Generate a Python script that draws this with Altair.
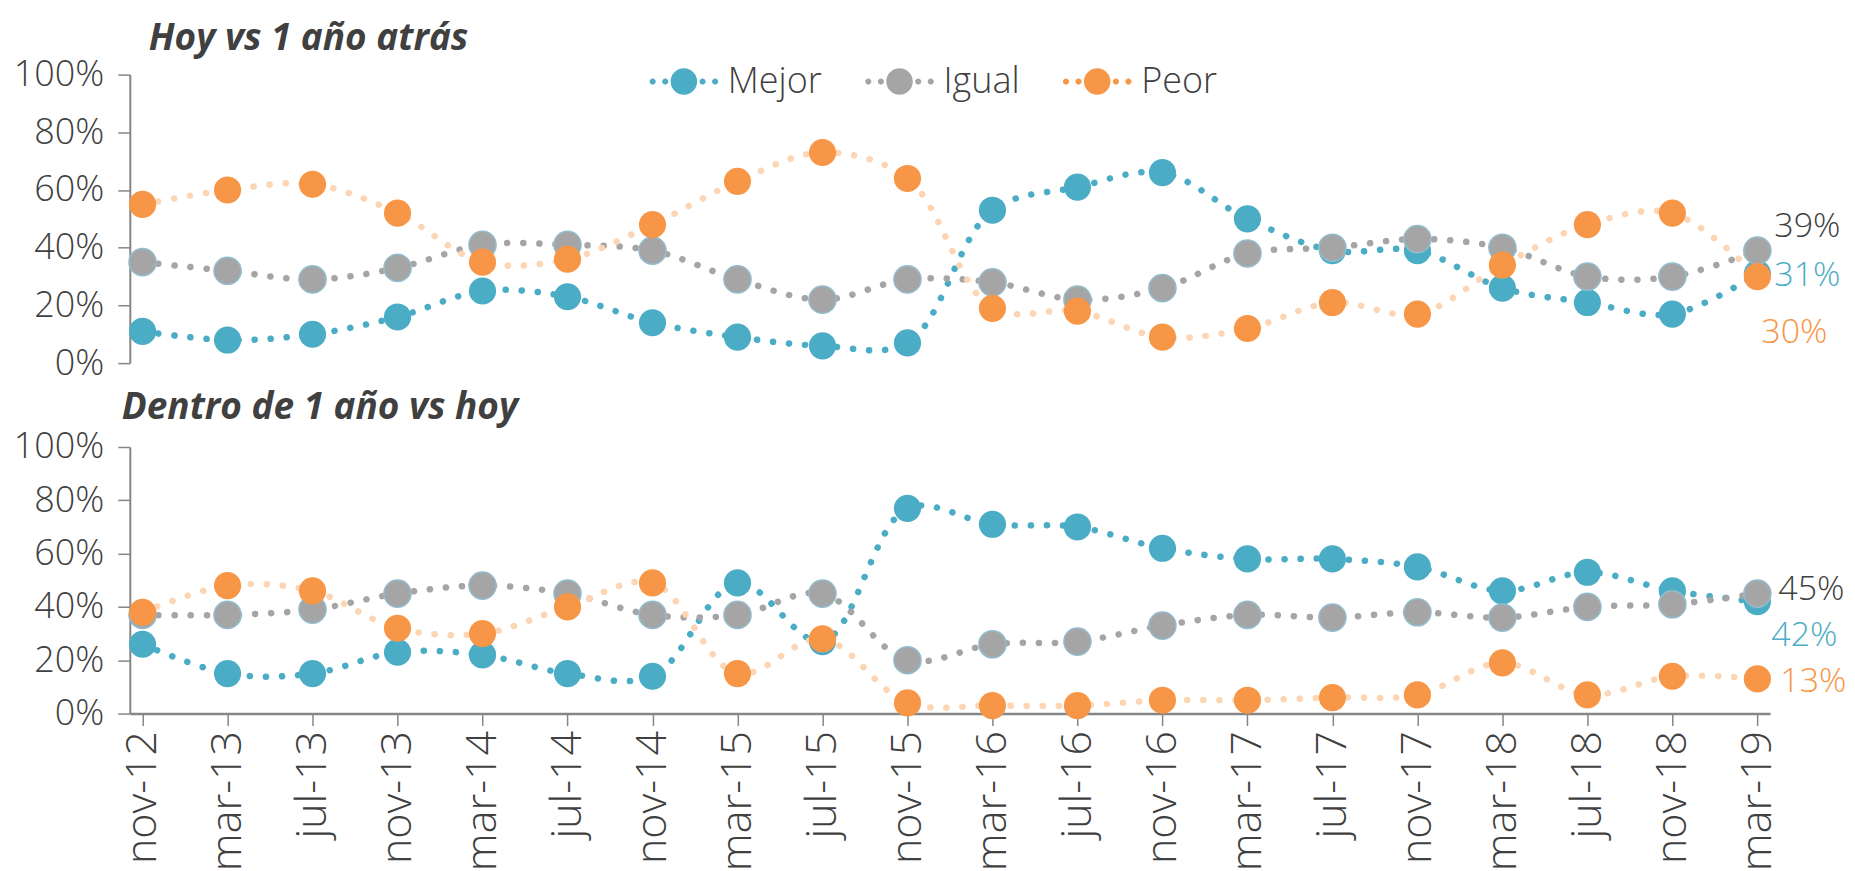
import altair as alt
import pandas as pd

fechas = ["nov-12", "mar-13", "jul-13", "nov-13", "mar-14", "jul-14", "nov-14",
          "mar-15", "jul-15", "nov-15", "mar-16", "jul-16", "nov-16", "mar-17",
          "jul-17", "nov-17", "mar-18", "jul-18", "nov-18", "mar-19"]
series = ["Mejor", "Igual", "Peor"]

# Hoy vs 1 año atrás (%)
hoy_mejor = [11, 8, 10, 16, 25, 23, 14, 9, 6, 7, 53, 61, 66, 50, 39, 39, 26, 21, 17, 31]
hoy_igual = [35, 32, 29, 33, 41, 41, 39, 29, 22, 29, 28, 22, 26, 38, 40, 43, 40, 30, 30, 39]
hoy_peor = [55, 60, 62, 52, 35, 36, 48, 63, 73, 64, 19, 18, 9, 12, 21, 17, 34, 48, 52, 30]

# Dentro de 1 año vs hoy (%)
fut_mejor = [26, 15, 15, 23, 22, 15, 14, 49, 27, 77, 71, 70, 62, 58, 58, 55, 46, 53, 46, 42]
fut_igual = [37, 37, 39, 45, 48, 45, 37, 37, 45, 20, 26, 27, 33, 37, 36, 38, 36, 40, 41, 45]
fut_peor = [38, 48, 46, 32, 30, 40, 49, 15, 28, 4, 3, 3, 5, 5, 6, 7, 19, 7, 14, 13]

line_colors = ["#4BACC6", "#A5A5A5", "#FCD5B5"]
marker_colors = ["#4BACC6", "#A5A5A5", "#F79646"]
label_colors = {"Mejor": "#4BACC6", "Igual": "#404040", "Peor": "#F79646"}

FONT = "Open Sans"
TXT = "#404040"
AXC = "#868686"
W = 1643


def long_df(m, i, p):
    rows = []
    for s, vals in zip(series, [m, i, p]):
        for f, v in zip(fechas, vals):
            rows.append({"Serie": s, "Fecha": f, "Valor": v})
    return pd.DataFrame(rows)


def dots(cx, r):
    return (f"M{cx - r:.3f},0A{r},{r},0,1,0,{cx + r:.3f},0"
            f"A{r},{r},0,1,0,{cx - r:.3f},0Z")


legend_symbol = (dots(0, 0.39) + dots(-0.92, 0.09) + dots(-0.55, 0.09)
                 + dots(0.55, 0.09) + dots(0.92, 0.09))


def panel(df, title, title_dx, title_offset, height, bottom_axis, legend,
          label_offsets):
    if bottom_axis:
        x_axis = alt.Axis(title=None, labelAngle=-90, labelFontSize=43,
                          labelFont=FONT, labelFontWeight=300, labelColor=TXT,
                          labelPadding=5, tickSize=12, tickWidth=1.5,
                          tickColor=AXC, domainColor=AXC, domainWidth=2.5)
    else:
        x_axis = None
    x = alt.X("Fecha:N", sort=fechas,
              scale=alt.Scale(type="point", padding=0.15), axis=x_axis)
    y = alt.Y("Valor:Q", scale=alt.Scale(domain=[0, 100], nice=False),
              axis=alt.Axis(title=None, values=[0, 20, 40, 60, 80, 100],
                            labelExpr="datum.value + '%'", grid=False,
                            labelFontSize=36, labelFont=FONT,
                            labelFontWeight=300, labelColor=TXT,
                            labelPadding=14, tickSize=12, tickWidth=1.5,
                            tickColor=AXC, domainColor=AXC, domainWidth=2,
                            minExtent=122))
    base = alt.Chart(df)
    lines = base.mark_line(interpolate="catmull-rom", strokeWidth=6.5,
                           strokeCap="round", strokeDash=[0.1, 16]).encode(
        x=x, y=y,
        stroke=alt.Stroke("Serie:N", sort=series,
                          scale=alt.Scale(domain=series, range=line_colors),
                          legend=None),
        detail="Serie:N",
    )
    if legend:
        leg = alt.Legend(title=None, orient="none", legendX=521, legendY=-27,
                         direction="horizontal", symbolType=legend_symbol,
                         symbolSize=4624, symbolStrokeWidth=0,
                         labelFontSize=36, labelFont=FONT,
                         labelFontWeight=300, labelColor=TXT,
                         labelOffset=10, columnPadding=42, padding=0,
                         symbolOpacity=1)
    else:
        leg = None
    points = base.mark_point(filled=True, size=740, opacity=1,
                             stroke="#93BCCD").encode(
        x=x, y=y,
        fill=alt.Fill("Serie:N", sort=series,
                      scale=alt.Scale(domain=series, range=marker_colors),
                      legend=leg),
        strokeWidth=alt.condition(alt.datum.Serie == "Igual",
                                  alt.value(1.5), alt.value(0)),
    )
    layers = [lines, points]
    for s in series:
        dx, dy = label_offsets[s]
        t = base.transform_filter(
            (alt.datum.Fecha == fechas[-1]) & (alt.datum.Serie == s)
        ).transform_calculate(
            etiqueta="datum.Valor + '%'"
        ).mark_text(align="left", baseline="middle", dx=dx, dy=dy,
                    fontSize=34, font=FONT, fontWeight=300,
                    color=label_colors[s]).encode(
            x=x, y=y, text="etiqueta:N")
        layers.append(t)
    return alt.layer(*layers).properties(
        width=W, height=height,
        title=alt.TitleParams(title, anchor="start", frame="group",
                              dx=title_dx, fontSize=37, font=FONT,
                              fontStyle="italic", fontWeight="bold",
                              color=TXT, offset=title_offset),
    )


top = panel(long_df(hoy_mejor, hoy_igual, hoy_peor), "Hoy vs 1 año atrás",
            19, -10, 289, False, True,
            {"Mejor": (17, 2), "Igual": (17, -24), "Peor": (4, 57)})
bottom = panel(long_df(fut_mejor, fut_igual, fut_peor), "Dentro de 1 año vs hoy",
               -8, 2, 267, True, False,
               {"Mejor": (14, 34), "Igual": (21, -4), "Peor": (23, 3)})

chart = alt.vconcat(top, bottom, spacing=8).resolve_legend(
    fill="independent").properties(
    padding={"top": 11, "left": 0, "right": 0, "bottom": 0},
    background="white"
).configure_view(stroke=None)

chart.save("out.html", embed_options={"renderer": "svg", "actions": False})
